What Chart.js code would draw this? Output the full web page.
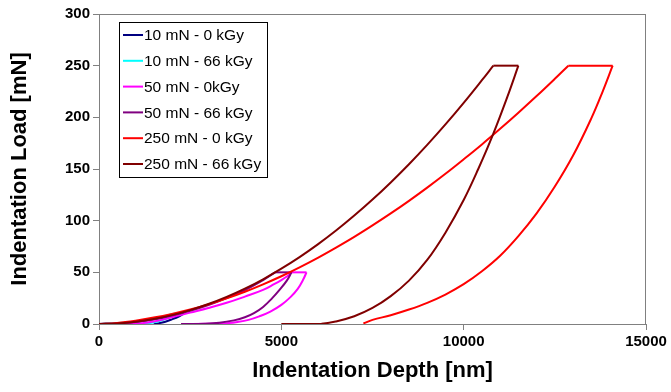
<!DOCTYPE html>
<html lang="en">
  <head>
    <meta charset="UTF-8" />
    <title>Indentation Load vs Depth</title>
    <script src="https://cdn.jsdelivr.net/npm/chart.js@4.4.0/dist/chart.umd.min.js"></script>
    <style>
      body {
        margin: 0;
        background: #ffffff;
      }
      #wrap {
        width: 671px;
        height: 392px;
      }
    </style>
  </head>
  <body>
    <div id="wrap">
      <canvas id="myChart" width="671" height="392"></canvas>
    </div>

    <script>
      // series labels and colours, in legend order
      const seriesLabels = [
        "10 mN - 0 kGy",
        "10 mN - 66 kGy",
        "50 mN - 0kGy",
        "50 mN - 66 kGy",
        "250 mN - 0 kGy",
        "250 mN - 66 kGy",
      ];
      const seriesColors = ["#000080", "#00ffff", "#ff00ff", "#800080", "#ff0000", "#800000"];

      // depth [nm] / load [mN] (loading, hold, unloading)
      const depth10_0 = [0, 500, 1000, 1500, 2000, 2200, 2320, 2200, 2000, 1800, 1600, 1500];
      const load10_0 = [0, 0.6, 2, 4.5, 8, 10, 10, 7.5, 4.5, 2, 0.5, 0];

      const depth10_66 = [0, 500, 1000, 1500, 2050, 2130, 2000, 1800, 1600, 1400, 1100];
      const load10_66 = [0, 0.8, 2.3, 5, 10, 10, 7.5, 4.5, 2.5, 1, 0];

      const depth50_0 = [0, 1000, 1500, 2000, 2500, 3000, 3500, 4000, 4500, 4800, 5000, 5150, 5280,
        5690, 5600, 5450, 5250, 5000, 4700, 4400, 4100, 3800, 3500, 3000, 2300];
      const load50_0 = [0, 0.3, 2.5, 6.5, 11, 15.5, 20.5, 26.5, 33, 38.5, 42.5, 46, 50,
        50, 43, 34, 26, 18.5, 12, 7.5, 4, 2, 0.8, 0.2, 0];

      const depth50_66 = [0, 500, 1000, 1500, 2000, 2500, 3000, 3500, 4000, 4500, 4830,
        5280, 5150, 4950, 4750, 4500, 4250, 4000, 3700, 3300, 2900, 2250];
      const load50_66 = [0, 0.5, 2, 4.6, 8.2, 12.8, 18.4, 25.1, 32.8, 42.5, 50,
        50, 42, 33, 25, 16.5, 10.5, 6.5, 3.5, 1.2, 0.3, 0];

      const depth250_0 = [0, 500, 1000, 1500, 2000, 2500, 3000, 3500, 4000, 4500, 5000, 5500,
        6000, 6500, 7000, 7500, 8000, 8500, 9000, 9500, 10000, 10500, 11000, 11500, 12000,
        12500, 12870, 14085, 13800, 13500, 13000, 12500, 12000, 11500, 11000, 10500, 10000,
        9500, 9000, 8500, 8000, 7500, 7250];
      const load250_0 = [0, 1, 3.2, 6.2, 9.8, 14, 19, 24.8, 31.2, 38.4, 46.2, 54.8,
        64, 73.9, 84.3, 95.4, 107, 119.2, 132, 145.4, 159.4, 173.8, 188.9, 204.5, 220.6,
        237.3, 250, 250, 224, 199, 163, 133, 107, 85, 66, 51, 38.5,
        28.5, 20.5, 14, 8.5, 4, 0.5];

      const depth250_66 = [0, 500, 1000, 1500, 2000, 2500, 3000, 3500, 4000, 4500, 5000, 5500,
        6000, 6500, 7000, 7500, 8000, 8500, 9000, 9500, 10000, 10500, 10813,
        11500, 11200, 10800, 10400, 10000, 9500, 9000, 8500, 8000, 7500, 7000, 6500, 6100, 5000];
      const load250_66 = [0, 0.5, 2.1, 4.8, 8.6, 13.4, 19.3, 26.2, 34.2, 43.3, 53.5, 64.7,
        77, 90.4, 104.9, 120.4, 137, 154.6, 173.3, 193.1, 214, 235.9, 250,
        250, 220, 183, 150, 120, 88.4, 62, 42, 27, 15.5, 7.5, 2.5, 0.3, 0];

      const depthSeries = [depth10_0, depth10_66, depth50_0, depth50_66, depth250_0, depth250_66];
      const loadSeries = [load10_0, load10_66, load50_0, load50_66, load250_0, load250_66];
      // index where the hold at peak load starts (it ends one point later)
      const holdStart = [5, 4, 12, 10, 26, 22];

      // axis ticks
      const xTicks = [0, 5000, 10000, 15000];
      const yTicks = [0, 50, 100, 150, 200, 250, 300];

      const axisGray = "#808080";
      const fontFamily = "'Liberation Sans', Arial, sans-serif";

      // box round the plot area
      const frame = {
        id: "frame",
        beforeDatasetsDraw(chart) {
          const a = chart.chartArea;
          const ctx = chart.ctx;
          ctx.save();
          ctx.strokeStyle = axisGray;
          ctx.lineWidth = 1;
          ctx.strokeRect(a.left + 0.5, a.top + 0.5, a.right - a.left - 1, a.bottom - a.top);
          ctx.restore();
        },
      };

      // legend box inside the plot, like the original
      const boxLegend = {
        id: "boxLegend",
        afterDraw(chart) {
          const ctx = chart.ctx;
          const a = chart.chartArea;
          const x0 = a.left + 20;
          const y0 = a.top + 8;
          const w = 148;
          const h = 155;
          ctx.save();
          ctx.fillStyle = "#ffffff";
          ctx.fillRect(x0, y0, w, h);
          ctx.strokeStyle = "#000000";
          ctx.lineWidth = 1;
          ctx.strokeRect(x0 + 0.5, y0 + 0.5, w, h);
          ctx.font = "15.5px " + fontFamily;
          ctx.textBaseline = "middle";
          ctx.textAlign = "left";
          seriesLabels.forEach(function (label, i) {
            const yy = y0 + 13 + i * 25.8;
            ctx.strokeStyle = seriesColors[i];
            ctx.lineWidth = 2;
            ctx.beginPath();
            ctx.moveTo(x0 + 4, yy);
            ctx.lineTo(x0 + 24, yy);
            ctx.stroke();
            ctx.fillStyle = "#000000";
            ctx.fillText(label, x0 + 25, yy + 1);
          });
          ctx.restore();
        },
      };

      // each curve is drawn as loading (smooth), hold (straight), unloading (smooth)
      const datasets = [];
      seriesLabels.forEach(function (label, i) {
        const pts = depthSeries[i].map(function (d, j) {
          return { x: d, y: loadSeries[i][j] };
        });
        const h = holdStart[i];
        const parts = [
          { data: pts.slice(0, h + 1), tension: 0.4 },
          { data: pts.slice(h, h + 2), tension: 0 },
          { data: pts.slice(h + 1), tension: 0.4 },
        ];
        parts.forEach(function (p) {
          datasets.push({
            label: label,
            data: p.data,
            borderColor: seriesColors[i],
            backgroundColor: seriesColors[i],
            borderWidth: 2,
            pointRadius: 0,
            showLine: true,
            tension: p.tension,
            order: seriesLabels.length - 1 - i,
          });
        });
      });

      const tickFont = { family: fontFamily, size: 15, weight: "bold" };
      const titleFont = { family: fontFamily, size: 22, weight: "bold" };

      new Chart(document.getElementById("myChart"), {
        type: "scatter",
        data: { datasets: datasets },
        plugins: [frame, boxLegend],
        options: {
          responsive: false,
          animation: false,
          devicePixelRatio: 1,
          layout: { padding: { top: 14, right: 25, left: 0, bottom: 0 } },
          plugins: {
            legend: { display: false },
            tooltip: { enabled: false },
          },
          scales: {
            x: {
              type: "linear",
              min: 0,
              max: 15000,
              afterBuildTicks: function (scale) {
                scale.ticks = xTicks.map(function (v) {
                  return { value: v };
                });
              },
              afterFit: function (scale) {
                scale.height = 68;
              },
              grid: {
                drawOnChartArea: false,
                drawTicks: true,
                tickLength: 6,
                color: axisGray,
              },
              border: { display: true, color: axisGray },
              ticks: {
                color: "#000000",
                font: tickFont,
                padding: 3,
                maxRotation: 0,
                callback: function (value) {
                  return String(value);
                },
              },
              title: {
                display: true,
                text: "Indentation Depth [nm]",
                color: "#000000",
                font: titleFont,
                padding: { top: 0, bottom: 8 },
              },
            },
            y: {
              type: "linear",
              min: 0,
              max: 300,
              afterBuildTicks: function (scale) {
                scale.ticks = yTicks.map(function (v) {
                  return { value: v };
                });
              },
              afterFit: function (scale) {
                scale.width = 99;
              },
              grid: {
                drawOnChartArea: false,
                drawTicks: true,
                tickLength: 6,
                color: axisGray,
              },
              border: { display: true, color: axisGray },
              ticks: {
                color: "#000000",
                font: tickFont,
                padding: 3,
                callback: function (value) {
                  return String(value);
                },
              },
              title: {
                display: true,
                text: "Indentation Load [mN]",
                color: "#000000",
                font: titleFont,
                padding: { top: 7, bottom: 0 },
              },
            },
          },
        },
      });
    </script>
  </body>
</html>
